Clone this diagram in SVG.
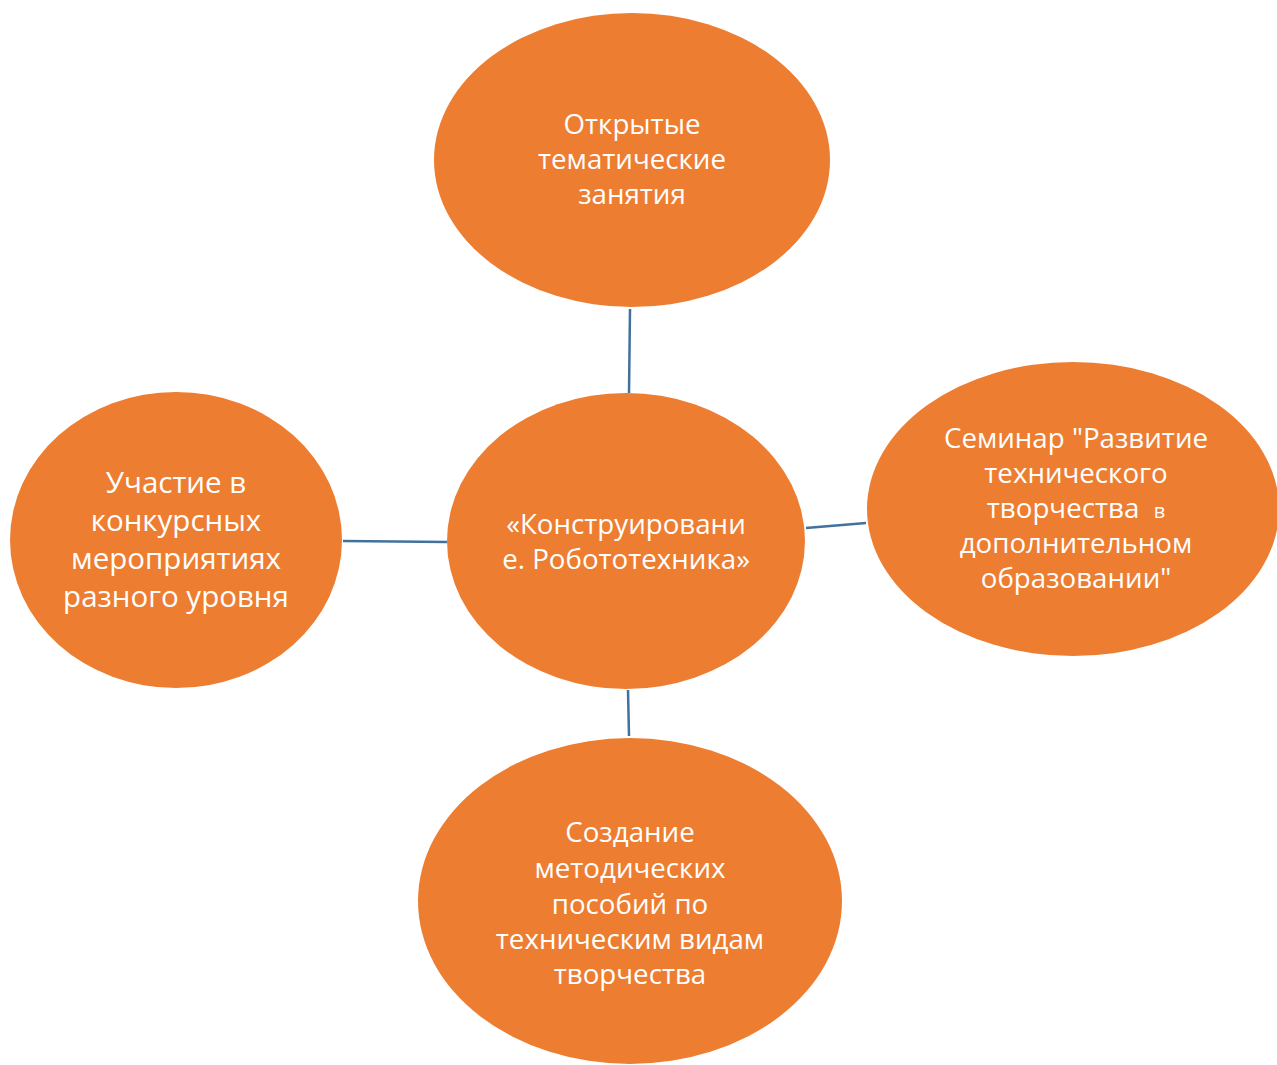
<svg xmlns="http://www.w3.org/2000/svg" width="1277" height="1065" viewBox="0 0 1277 1065">
<style>
.n{fill:#ED7D31}
.t{fill:#fff;font-family:"Open Sans","Noto Sans",sans-serif;font-size:27.7px;text-anchor:middle}
.c{stroke:#41719C;stroke-width:2.5;fill:none}
</style>
<rect width="1277" height="1065" fill="#fff"/>
<g id="connectors">
<line class="c" x1="630" y1="309" x2="629" y2="393"/>
<line class="c" x1="628" y1="690" x2="629" y2="736"/>
<line class="c" x1="343" y1="541" x2="447" y2="542"/>
<line class="c" x1="806" y1="528" x2="866" y2="523"/>
</g>
<g id="top">
<ellipse class="n" cx="632" cy="160" rx="198" ry="147"/>
<text class="t"><tspan x="632" y="134">Открытые</tspan><tspan x="632" y="169">тематические</tspan><tspan x="632" y="204">занятия</tspan></text>
</g>
<g id="center">
<ellipse class="n" cx="626" cy="541" rx="179" ry="148"/>
<text class="t"><tspan x="626" y="534">«Конструировани</tspan><tspan x="626" y="569">е. Робототехника»</tspan></text>
</g>
<g id="right">
<ellipse class="n" cx="1073" cy="509" rx="206" ry="147"/>
<text class="t"><tspan x="1076" y="448">Семинар "Развитие</tspan><tspan x="1076" y="483">технического</tspan><tspan x="1076" y="518" style="white-space:pre">творчества  <tspan style="font-size:20px">в</tspan></tspan><tspan x="1076" y="553">дополнительном</tspan><tspan x="1076" y="588">образовании"</tspan></text>
</g>
<g id="left">
<ellipse class="n" cx="176" cy="540" rx="166" ry="148"/>
<text class="t" style="font-size:29.5px"><tspan x="176" y="493">Участие в</tspan><tspan x="176" y="531">конкурсных</tspan><tspan x="176" y="569">мероприятиях</tspan><tspan x="176" y="607">разного уровня</tspan></text>
</g>
<g id="bottom">
<ellipse class="n" cx="630" cy="901" rx="212" ry="163"/>
<text class="t"><tspan x="630" y="842">Создание</tspan><tspan x="630" y="878">методических</tspan><tspan x="630" y="914">пособий по</tspan><tspan x="630" y="949">техническим видам</tspan><tspan x="630" y="984">творчества</tspan></text>
</g>
</svg>
